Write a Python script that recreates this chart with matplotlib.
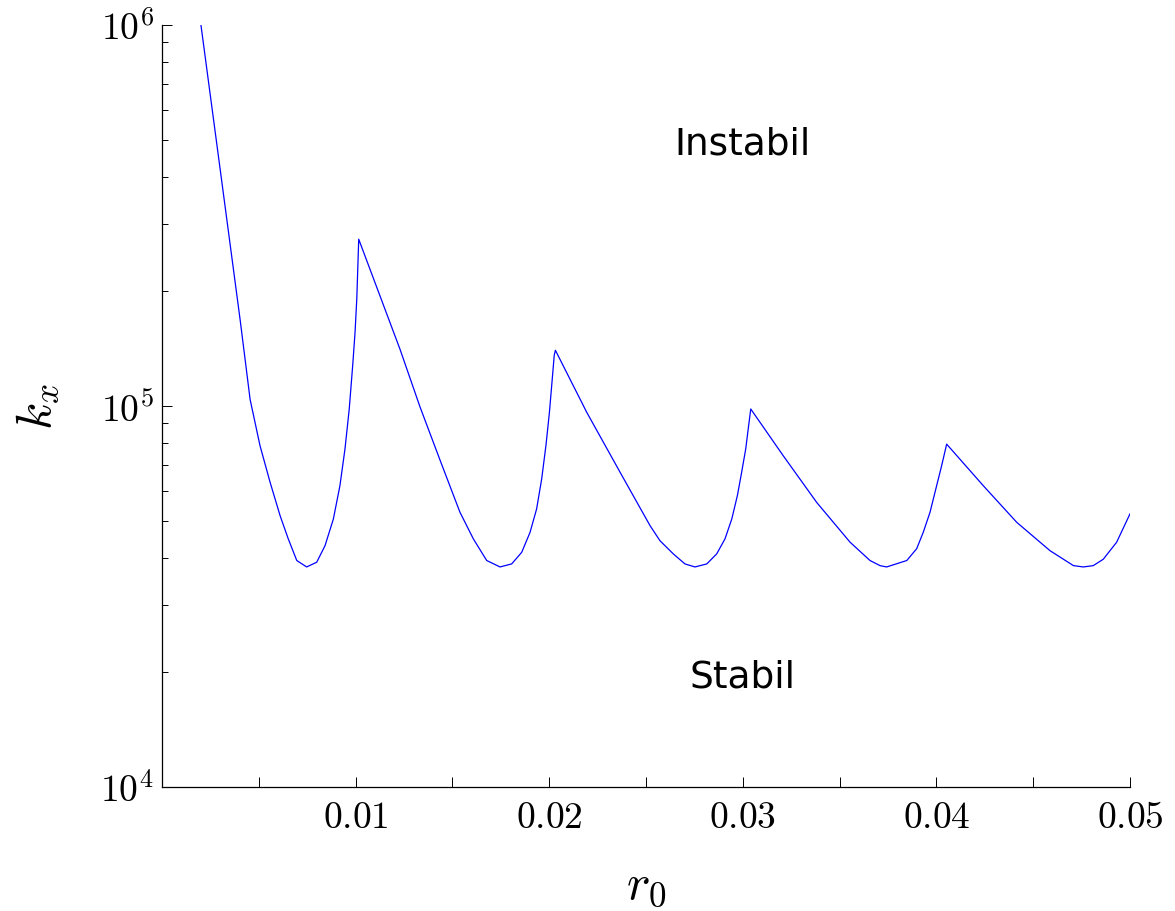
import matplotlib
matplotlib.use('Agg')
import matplotlib.pyplot as plt
from matplotlib.ticker import FixedLocator, FixedFormatter, LogLocator, NullFormatter

plt.rcParams['mathtext.fontset'] = 'cm'

# stability boundary k_x(r0)
r0 = [0.00201, 0.00300, 0.00403, 0.00455, 0.00506, 0.00558, 0.00610,
      0.00652, 0.00696, 0.00747, 0.00799, 0.00842, 0.00885, 0.00919, 0.00945,
      0.00967, 0.00985, 0.00997, 0.01006, 0.01016,
      0.01229, 0.01333, 0.01436, 0.01539, 0.01608, 0.01677, 0.01746, 0.01806,
      0.01858, 0.01901, 0.01935, 0.01961, 0.01983, 0.02001, 0.02014, 0.02026,
      0.02032,
      0.02194, 0.02366, 0.02521, 0.02572, 0.02641, 0.02701, 0.02753, 0.02814,
      0.02865, 0.02908, 0.02943, 0.02972, 0.02994, 0.03015, 0.03028, 0.03041,
      0.03209, 0.03382, 0.03554, 0.03657, 0.03709, 0.03743, 0.03847, 0.03898,
      0.03932, 0.03967, 0.04001, 0.04027, 0.04053,
      0.04243, 0.04415, 0.04587, 0.04708, 0.04759, 0.04810, 0.04862, 0.04931,
      0.05000]
kx = [1.0e6, 4.19e5, 1.69e5, 1.04e5, 7.87e4, 6.31e4, 5.15e4,
      4.48e4, 3.93e4, 3.78e4, 3.89e4, 4.30e4, 5.05e4, 6.18e4, 7.71e4,
      9.82e4, 1.28e5, 1.56e5, 1.91e5, 2.74e5,
      1.41e5, 9.93e4, 7.21e4, 5.26e4, 4.48e4, 3.93e4, 3.78e4, 3.85e4,
      4.13e4, 4.66e4, 5.37e4, 6.43e4, 7.87e4, 9.62e4, 1.15e5, 1.36e5,
      1.40e5,
      9.62e4, 6.70e4, 4.85e4, 4.43e4, 4.09e4, 3.85e4, 3.78e4, 3.85e4,
      4.09e4, 4.48e4, 5.05e4, 5.82e4, 6.70e4, 7.71e4, 8.71e4, 9.82e4,
      7.40e4, 5.58e4, 4.39e4, 3.93e4, 3.81e4, 3.78e4, 3.93e4, 4.22e4,
      4.66e4, 5.26e4, 6.17e4, 6.97e4, 7.94e4,
      6.17e4, 4.95e4, 4.17e4, 3.81e4, 3.78e4, 3.81e4, 3.96e4, 4.39e4,
      5.21e4]

xticks = [0.01, 0.02, 0.03, 0.04, 0.05]
xtick_labels = ['$0.01$', '$0.02$', '$0.03$', '$0.04$', '$0.05$']
yticks = [1e4, 1e5, 1e6]
ytick_labels = ['$10^4$', '$10^5$', '$10^6$']

fig = plt.figure(figsize=(11.75, 9.12), dpi=100)
ax = fig.add_axes([0.1379, 0.136, 0.8238, 0.8355])

ax.plot(r0, kx, color='#0000ff', lw=0.9)

ax.set_yscale('log')
ax.set_xlim(0, 0.05)
ax.set_ylim(1e4, 1e6)

ax.spines['top'].set_visible(False)
ax.spines['right'].set_visible(False)
for s in ('left', 'bottom'):
    ax.spines[s].set_linewidth(0.9)

ax.xaxis.set_major_locator(FixedLocator(xticks))
ax.xaxis.set_major_formatter(FixedFormatter(xtick_labels))
ax.xaxis.set_minor_locator(FixedLocator([0.005, 0.015, 0.025, 0.035, 0.045]))
ax.yaxis.set_major_locator(FixedLocator(yticks))
ax.yaxis.set_major_formatter(FixedFormatter(ytick_labels))
ax.yaxis.set_minor_locator(LogLocator(base=10, subs=range(2, 10)))
ax.yaxis.set_minor_formatter(NullFormatter())

ax.tick_params(axis='x', which='both', direction='in', length=7, width=0.7,
               labelsize=27, pad=9)
ax.tick_params(axis='y', which='major', direction='in', length=7, width=0.7,
               labelsize=27, pad=6)
ax.tick_params(axis='y', which='minor', direction='in', length=4, width=0.7)

ax.set_xlabel('$r_0$', fontsize=36, labelpad=18)
ax.set_ylabel('$k_x$', fontsize=36, labelpad=28)

ax.text(0.03, 4.9e5, 'Instabil', fontsize=27, ha='center', va='center')
ax.text(0.03, 1.95e4, 'Stabil', fontsize=27, ha='center', va='center')

fig.savefig('out.png', dpi=100)
